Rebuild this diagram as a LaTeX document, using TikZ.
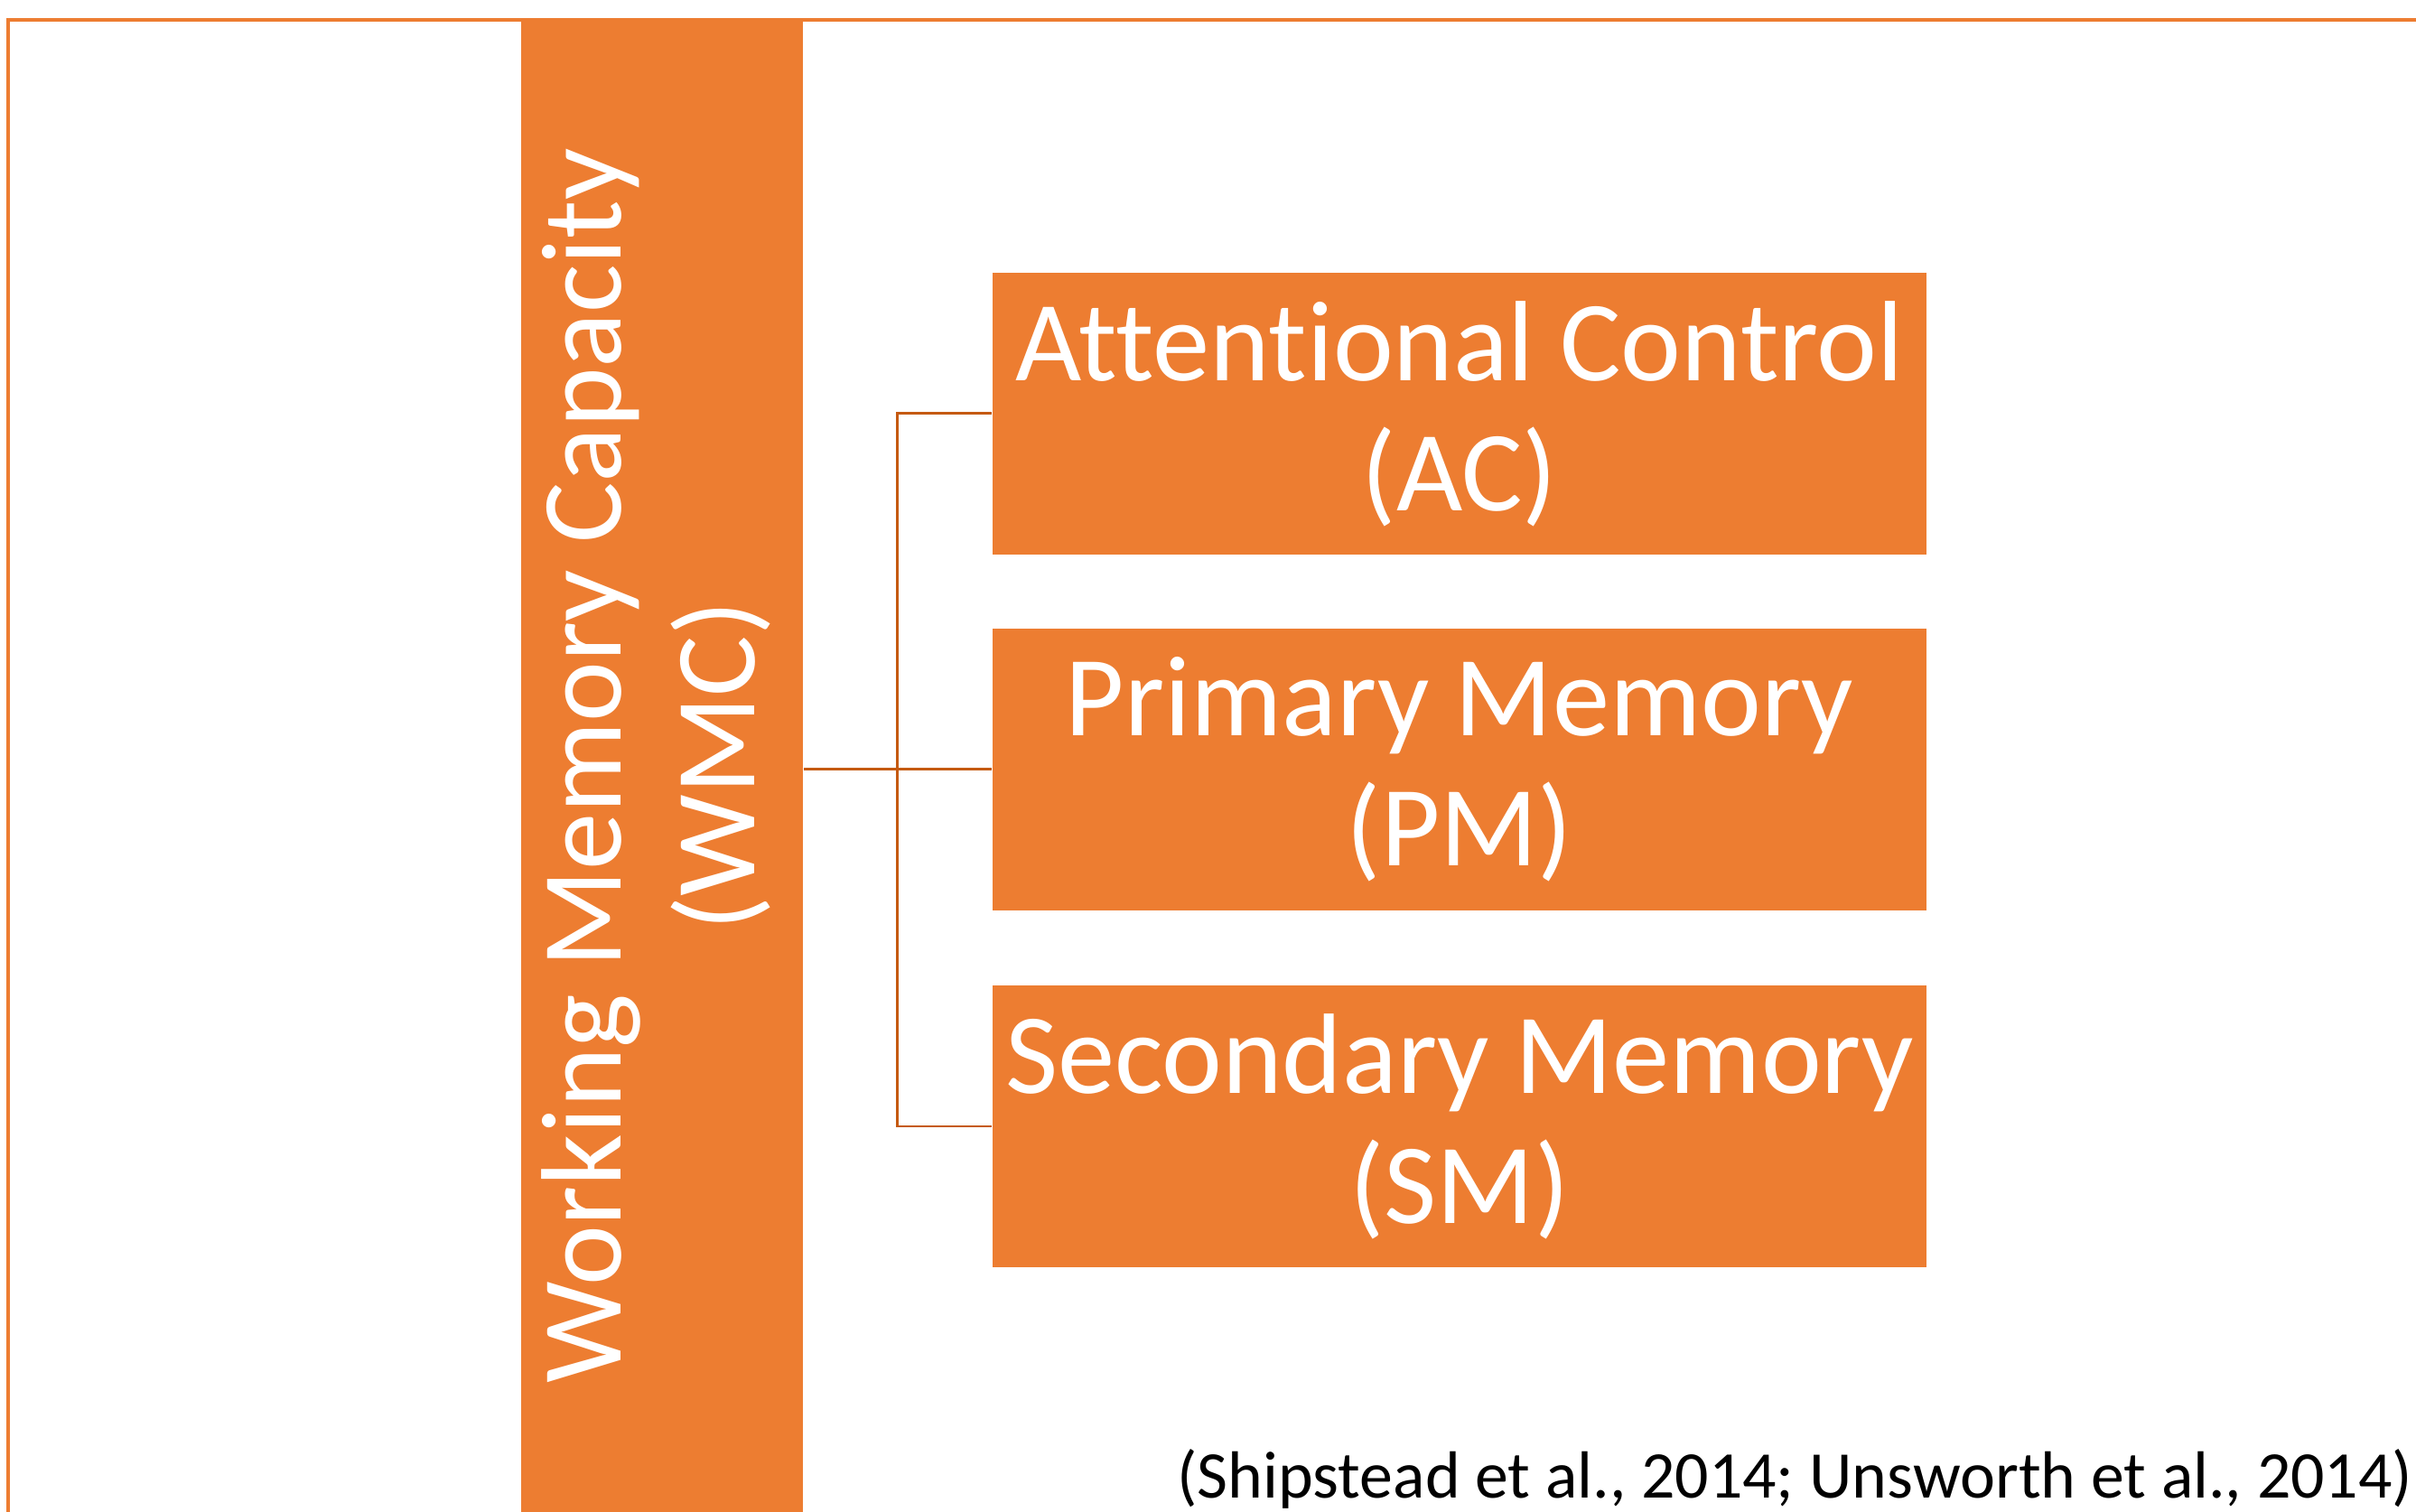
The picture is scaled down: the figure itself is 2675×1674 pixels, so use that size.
\documentclass[tikz,border=0pt]{standalone}
\usepackage{fontspec}
\setmainfont{Carlito}[RawFeature=-liga]
\definecolor{accent}{HTML}{ED7D31}
\definecolor{accentdark}{HTML}{C55A11}
\tikzset{
  frameline/.style={draw=accent, line width=0.9pt},
  bar/.style={fill=accent, draw=none, inner sep=0pt, text=white, align=center,
    minimum width=3.12cm, minimum height=16.52cm, font=\fontsize{36}{41}\selectfont},
  factor/.style={fill=accent, draw=none, inner sep=0pt, text=white, align=center,
    minimum width=10.34cm, minimum height=3.12cm, font=\fontsize{36}{41}\selectfont},
  link/.style={draw=accentdark, line width=0.85pt},
  cite/.style={inner sep=0pt, text=black, font=\fontsize{21}{25}\selectfont}
}
\begin{document}
\begin{tikzpicture}[x=0.01cm, y=-0.01cm]
\useasboundingbox (0,0) rectangle (2675,1674);
% page frame (top and left edges)
\draw[frameline] (9,1674) -- (9,22) -- (2675,22);
% vertical bar with the construct name
\node[bar] (wmc) at (733,848) {\rotatebox{90}{\begin{tabular}{c}Working Memory Capacity\\[1pt](WMC)\end{tabular}}};
% the three component boxes
\node[factor] (ac) at (1616,458) {Attentional Control\\(AC)};
\node[factor] (pm) at (1616,852) {Primary Memory\\(PM)};
\node[factor] (sm) at (1616,1247) {Secondary Memory\\(SM)};
% bracket connectors
\coordinate (bus) at (993,852);
\draw[link] (ac.west) -- (ac.west -| bus) -- (sm.west -| bus) -- (sm.west);
\draw[link] (wmc.east |- pm.west) -- (pm.west);
% reference line
\node[cite, anchor=base east] (ref) at (2672,1658) {(Shipstead et al., 2014; Unsworth et al., 2014)};
\end{tikzpicture}
\end{document}
